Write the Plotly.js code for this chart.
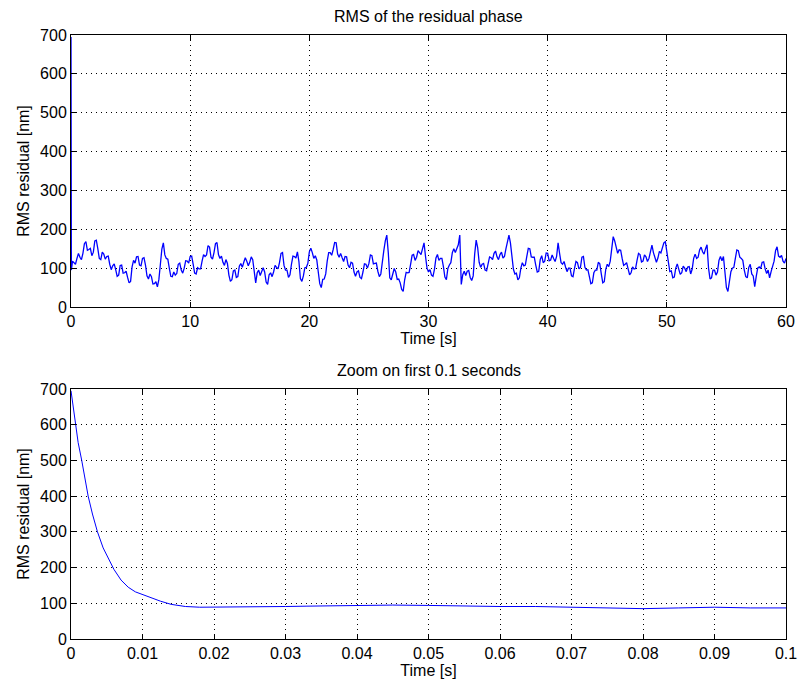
<!DOCTYPE html>
<html>
<head>
<meta charset="utf-8">
<script src="https://cdn.plot.ly/plotly-3.0.1.min.js"></script>
<style>
html,body{margin:0;padding:0;background:#fff;}
#chart{width:798px;height:686px;}
</style>
</head>
<body>
<div id="chart"></div>
<script>
// ---- Top panel: RMS of the residual phase over 60 s ----
const topStartTime = [0, 0.03];
const topStartValue = [695, 95];
const topStep = 0.125; // sampling grid of the values read below (from t = 0.125 s)
const topValues = [
  118,115,110,125,138,128,122,138,163,168,146,148,151,132,141,170,172,150,125,122,
  141,136,123,130,131,110,96,106,111,96,79,82,107,108,87,88,92,76,62,66,
  103,120,113,129,130,108,106,125,127,108,80,72,85,78,59,60,65,52,71,110,
  149,165,134,125,123,100,79,78,90,82,86,110,113,95,87,100,119,118,113,130,
  131,110,87,85,101,98,98,118,135,130,134,158,154,128,123,140,163,166,135,125,
  131,115,107,122,112,82,66,70,93,95,76,78,105,112,102,115,127,118,106,115,
  129,122,82,62,88,95,81,90,101,90,64,58,83,88,78,90,107,102,98,115,
  138,140,107,95,95,76,83,110,131,130,126,142,117,73,66,80,101,102,112,142,
  151,140,125,132,121,90,60,50,71,72,85,118,140,140,133,148,166,165,136,128,
  138,127,117,130,129,108,101,115,113,90,79,90,93,76,73,90,111,110,100,112,
  134,132,111,112,113,92,78,85,125,145,170,185,140,75,70,86,99,90,71,72,
  62,45,40,70,89,88,89,110,133,135,120,128,145,140,135,150,165,130,100,90,
  96,82,79,97,126,135,120,125,125,104,77,70,99,108,114,140,150,140,148,160,
  185,58,83,92,81,92,94,76,68,80,136,172,153,115,102,110,112,95,93,112,
  129,127,122,138,144,129,122,135,141,126,130,150,170,185,165,130,97,85,87,70,
  75,100,114,106,108,130,151,150,129,128,128,108,90,92,122,132,114,118,139,138,
  119,121,134,125,117,130,165,138,114,110,117,103,91,100,100,80,78,99,117,114,
  98,102,128,130,102,95,96,78,60,62,88,95,95,115,111,85,62,65,97,110,
  104,118,160,181,170,150,138,147,146,125,107,110,114,98,83,88,103,98,99,120,
  138,135,116,118,134,129,117,125,145,159,140,125,115,126,143,139,150,165,168,140,
  105,91,93,75,77,100,111,100,84,88,105,100,91,103,104,85,97,125,136,125,
  128,147,154,142,136,150,160,100,72,75,95,95,82,90,120,130,119,130,80,50,
  40,62,91,100,102,125,147,145,128,125,120,95,78,75,102,110,85,80,52,78,
  100,103,99,115,116,98,86,95,75,91,103,118,145,155,131,128,133,118,113,125
];

// ---- Bottom panel: zoom on first 0.1 s ----
const zoomTime = [0,0.0003,0.0006,0.0010,0.0015,0.0020,0.0024,0.0030,0.0037,0.0045,0.0052,0.0060,
  0.0070,0.0080,0.0090,0.0100,0.0110,0.0125,0.0140,0.0160,0.0180,0.020,0.023,0.026,0.030,0.033,
  0.036,0.040,0.045,0.050,0.055,0.060,0.065,0.070,0.075,0.080,0.085,0.090,0.095,0.100];
const zoomValue = [695,650,600,550,500,445,400,350,300,255,225,195,
  165,145,132,124,116,106,97,91,89,89,89,90,91,92,
  93,95,95,94,92,91,91,89,85,85,87,89,87,87];

// ---- tick labels ----
const yTicks = [0,100,200,300,400,500,600,700];
const topXTicks = [0,10,20,30,40,50,60];
const zoomXTicks = [0,0.01,0.02,0.03,0.04,0.05,0.06,0.07,0.08,0.09,0.1];
const zoomXLabels = ['0','0.01','0.02','0.03','0.04','0.05','0.06','0.07','0.08','0.09','0.1'];

const topT = topStartTime.slice();
const topV = topStartValue.slice();
topValues.forEach((v, i) => { topT.push((i + 1) * topStep); topV.push(v); });

const FONT = {family: 'Liberation Sans, Arial, Helvetica, sans-serif', size: 16, color: '#000'};

function axisBase() {
  return {
    showline: true, linecolor: '#000', linewidth: 1, mirror: 'ticks',
    ticks: 'inside', ticklen: 5, tickcolor: '#000', tickwidth: 1,
    showgrid: true, gridcolor: '#000', gridwidth: 1, griddash: '1px,4px',
    zeroline: false, tickfont: FONT
  };
}

const traces = [
  {x: topT, y: topV, type: 'scatter', mode: 'lines', xaxis: 'x', yaxis: 'y',
   line: {color: '#0000ff', width: 1.3}, hoverinfo: 'skip'},
  {x: zoomTime, y: zoomValue, type: 'scatter', mode: 'lines', xaxis: 'x2', yaxis: 'y2',
   line: {color: '#0000ff', width: 1}, hoverinfo: 'skip'}
];

const layout = {
  width: 798, height: 686,
  margin: {l: 71, r: 12, t: 35, b: 47},
  paper_bgcolor: '#fff', plot_bgcolor: '#fff',
  showlegend: false,
  font: FONT,
  xaxis: Object.assign(axisBase(), {domain: [0, 1], range: [0, 60], tickvals: topXTicks, anchor: 'y',
    title: {text: 'Time [s]', font: FONT, standoff: 2}}),
  yaxis: Object.assign(axisBase(), {domain: [0.5497, 1], range: [0, 700], tickvals: yTicks, anchor: 'x',
    title: {text: 'RMS residual [nm]', font: FONT, standoff: 6}}),
  xaxis2: Object.assign(axisBase(), {domain: [0, 1], range: [0, 0.1], tickvals: zoomXTicks, ticktext: zoomXLabels, anchor: 'y2',
    title: {text: 'Time [s]', font: FONT, standoff: 2}}),
  yaxis2: Object.assign(axisBase(), {domain: [0, 0.4139], range: [0, 700], tickvals: yTicks, anchor: 'x2',
    title: {text: 'RMS residual [nm]', font: FONT, standoff: 6}}),
  annotations: [
    {text: 'RMS of the residual phase', xref: 'paper', yref: 'paper', x: 0.5, y: 1, yshift: 8,
     xanchor: 'center', yanchor: 'bottom', showarrow: false, font: FONT},
    {text: 'Zoom on first 0.1 seconds', xref: 'paper', yref: 'paper', x: 0.5, y: 0.4139, yshift: 8,
     xanchor: 'center', yanchor: 'bottom', showarrow: false, font: FONT}
  ]
};

Plotly.newPlot('chart', traces, layout, {displayModeBar: false, staticPlot: true});
</script>
</body>
</html>
